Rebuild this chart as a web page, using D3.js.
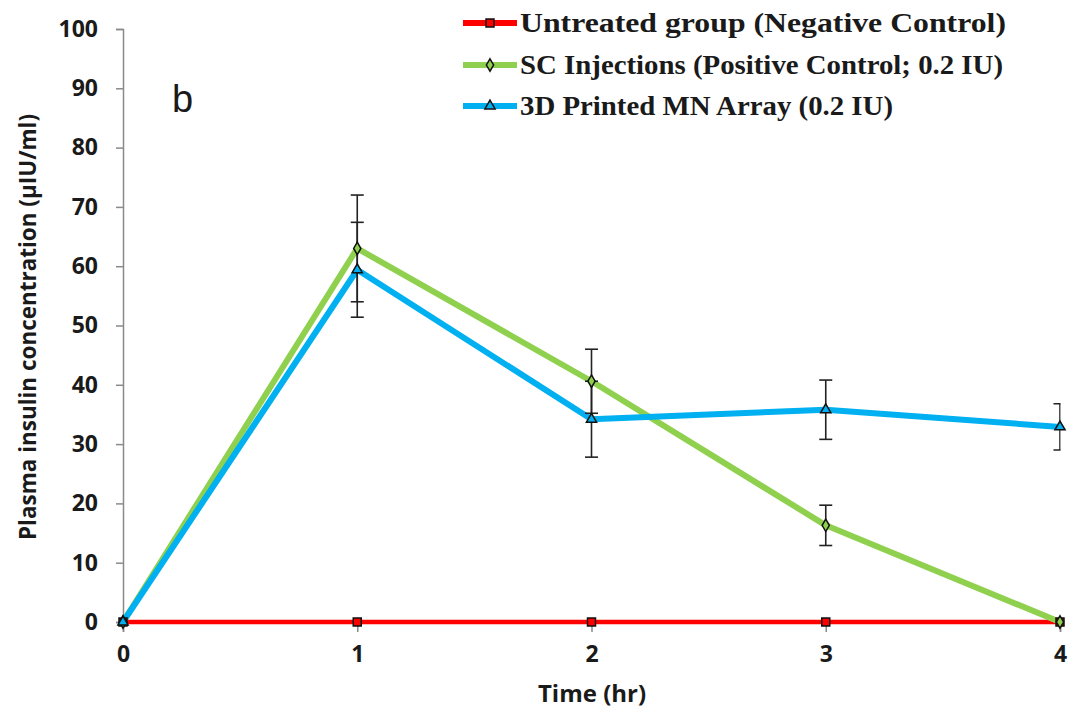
<!DOCTYPE html>
<html><head><meta charset="utf-8">
<script src="https://cdn.jsdelivr.net/npm/d3@7"></script>
<style>body{margin:0;background:#fff}svg{display:block}</style>
</head><body>
<svg id="c" width="1070" height="715"></svg>
<script>
const times = [0, 1, 2, 3, 4];
const untreated = [0, 0, 0, 0, 0];
const scInjection = [0, 63, 40.6, 16.3, 0];
const scError = [0, 9, 5.4, 3.4, 0];
const mnArray = [0, 59.4, 34.2, 35.8, 32.9];
const mnError = [0, 8, 6.4, 5, 3.9];
const yTicks = [0, 10, 20, 30, 40, 50, 60, 70, 80, 90, 100];
const seriesNames = ["Untreated group (Negative Control)", "SC Injections (Positive Control; 0.2 IU)", "3D Printed MN Array (0.2 IU)"];
const legendLengths = [486, 483, 373];

const svg = d3.select("#c");
const x = d3.scaleLinear().domain([0, 4]).range([123, 1060]);
const y = d3.scaleLinear().domain([0, 100]).range([622, 29]);
const axisCol = "#8a8a8a";
const tickFont = "'Open Sans', sans-serif";

svg.append("defs").append("clipPath").attr("id", "pc")
  .append("rect").attr("x", 0).attr("y", 0).attr("width", 1060.5).attr("height", 715);

// Y axis
const ya = svg.append("g").attr("transform", "translate(123,0)")
  .call(d3.axisLeft(y).tickValues(yTicks).tickSize(7).tickPadding(18));
ya.select(".domain").attr("stroke", axisCol).attr("stroke-width", 1.5);
ya.selectAll(".tick line").attr("stroke", axisCol).attr("stroke-width", 1.5);
ya.selectAll(".tick text").attr("font-family", tickFont).attr("font-weight", 700)
  .attr("font-size", 23).attr("fill", "#1a1a1a");

// X axis
const xa = svg.append("g").attr("transform", "translate(0,622)")
  .call(d3.axisBottom(x).tickValues(times).tickFormat(d3.format("d")).tickSize(10).tickPadding(14));
xa.select(".domain").attr("stroke", axisCol).attr("stroke-width", 1.5);
xa.selectAll(".tick line").attr("stroke", axisCol).attr("stroke-width", 1.5);
xa.selectAll(".tick text").attr("font-family", tickFont).attr("font-weight", 700)
  .attr("font-size", 23).attr("fill", "#1a1a1a");

// Axis titles
svg.append("text").attr("x", 592).attr("y", 702).attr("text-anchor", "middle")
  .attr("font-family", tickFont).attr("font-weight", 700).attr("font-size", 24)
  .attr("fill", "#1a1a1a").text("Time (hr)");
svg.append("text").attr("transform", "translate(36,327) rotate(-90)").attr("text-anchor", "middle")
  .attr("font-family", tickFont).attr("font-weight", 700).attr("font-size", 24)
  .attr("textLength", 426).attr("lengthAdjust", "spacingAndGlyphs")
  .attr("fill", "#1a1a1a").text("Plasma insulin concentration (\u00b5IU/ml)");

// panel letter
svg.append("text").attr("x", 172).attr("y", 112).attr("font-family", "'Liberation Sans', Arial, sans-serif")
  .attr("font-size", 38).attr("fill", "#1a1a1a").text("b");

const series = [
  {name: seriesNames[0], vals: untreated, err: null, color: "#ff0000", w: 4.5, shape: d3.symbolSquare, size: 64},
  {name: seriesNames[1], vals: scInjection, err: scError, color: "#8fd14f", w: 6, shape: d3.symbolDiamond, size: 45},
  {name: seriesNames[2], vals: mnArray, err: mnError, color: "#00b0f0", w: 6, shape: d3.symbolTriangle, size: 45}
];

const line = d3.line().x((d, i) => x(times[i])).y(d => y(d));

series.forEach(s => {
  svg.append("path").datum(s.vals).attr("d", line).attr("fill", "none")
    .attr("stroke", s.color).attr("stroke-width", s.w).attr("stroke-linejoin", "round");
});

// error bars
const eg = svg.append("g").attr("clip-path", "url(#pc)");
series.forEach(s => {
  if (!s.err) return;
  s.vals.forEach((v, i) => {
    const e = s.err[i];
    if (!e) return;
    const cx = x(times[i]);
    eg.append("line").attr("x1", cx).attr("x2", cx).attr("y1", y(v + e)).attr("y2", y(v - e))
      .attr("stroke", "#222").attr("stroke-width", 1.6);
    [v + e, v - e].forEach(b => {
      eg.append("line").attr("x1", cx - 6.5).attr("x2", cx + 6.5).attr("y1", y(b)).attr("y2", y(b))
        .attr("stroke", "#222").attr("stroke-width", 1.6);
    });
  });
});

// markers
series.forEach(s => {
  const sym = d3.symbol().type(s.shape).size(s.size);
  svg.append("g").selectAll("path").data(s.vals).join("path")
    .attr("d", sym)
    .attr("transform", (d, i) => `translate(${x(times[i])},${y(d)})`)
    .attr("fill", s.color).attr("stroke", "#111").attr("stroke-width", 1.5);
});

// legend
const lg = svg.append("g");
const rowsY = [23, 65, 106];
series.forEach((s, i) => {
  const ly = rowsY[i];
  lg.append("line").attr("x1", 463).attr("x2", 517).attr("y1", ly).attr("y2", ly)
    .attr("stroke", s.color).attr("stroke-width", 6);
  lg.append("path").attr("d", d3.symbol().type(s.shape).size(s.size)())
    .attr("transform", `translate(490,${ly})`).attr("fill", s.color)
    .attr("stroke", "#111").attr("stroke-width", 1.5);
  lg.append("text").attr("x", 520).attr("y", ly + 9)
    .attr("font-family", "'Liberation Serif', 'Times New Roman', serif").attr("font-weight", 700)
    .attr("font-size", 27).attr("textLength", legendLengths[i]).attr("lengthAdjust", "spacingAndGlyphs")
    .attr("fill", "#1a1a1a").text(s.name);
});
</script>
</body></html>
